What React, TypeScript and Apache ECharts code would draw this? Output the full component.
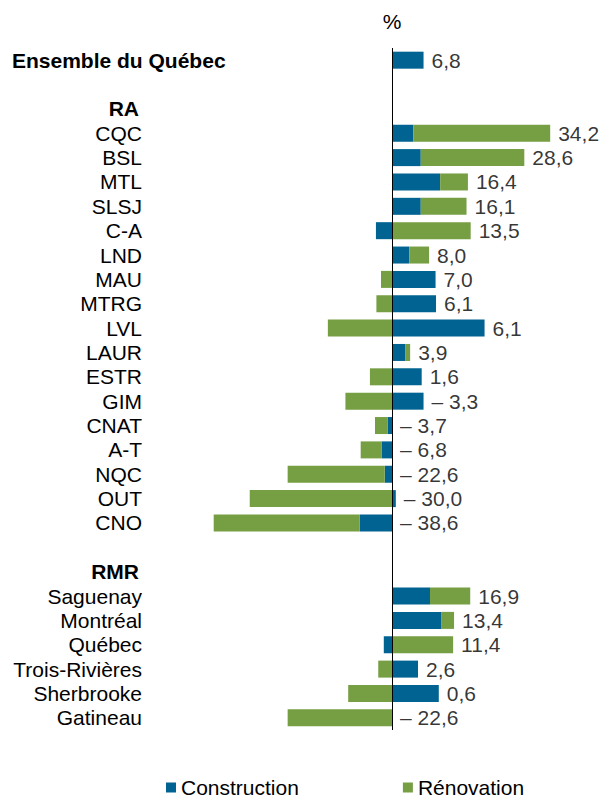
import React, { useEffect, useRef } from "react";
import * as echarts from "echarts";

const categories = [
  "Ensemble du Québec", " ", "RA",
  "CQC", "BSL", "MTL", "SLSJ", "C-A", "LND", "MAU", "MTRG", "LVL",
  "LAUR", "ESTR", "GIM", "CNAT", "A-T", "NQC", "OUT", "CNO",
  "  ", "RMR",
  "Saguenay", "Montréal", "Québec", "Trois-Rivières", "Sherbrooke", "Gatineau",
];
const overallLabel = "Ensemble du Québec";
const headerLabels = ["RA", "RMR"];

const construction: (number | null)[] = [
  6.8, null, null,
  4.6, 6.2, 10.4, 6.2, -3.5, 3.7, 9.4, 9.5, 20.0,
  2.9, 6.4, 6.8, -1.0, -2.3, -1.6, 0.8, -7.0,
  null, null,
  8.2, 10.7, -1.8, 5.6, 10.1, 0.0,
];
const renovation: (number | null)[] = [
  0.0, null, null,
  29.6, 22.4, 6.0, 9.9, 17.0, 4.3, -2.4, -3.4, -13.9,
  1.0, -4.8, -10.1, -2.7, -4.5, -21.0, -30.8, -31.6,
  null, null,
  8.7, 2.7, 13.2, -3.0, -9.5, -22.6,
];
const totals: (number | null)[] = [
  6.8, null, null,
  34.2, 28.6, 16.4, 16.1, 13.5, 8.0, 7.0, 6.1, 6.1,
  3.9, 1.6, -3.3, -3.7, -6.8, -22.6, -30.0, -38.6,
  null, null,
  16.9, 13.4, 11.4, 2.6, 0.6, -22.6,
];

const BLUE = "#006391";
const GREEN = "#769E43";
const FONT = "'Liberation Sans', Arial, Helvetica, sans-serif";
const FS = 21;

function fmt(v: number): string {
  const s = Math.abs(v).toFixed(1).replace(".", ",");
  return v < 0 ? "– " + s : s;
}

export default function App() {
  const ref = useRef<HTMLDivElement>(null);
  useEffect(() => {
    if (!ref.current) return;
    const chart = echarts.init(ref.current, null, { renderer: "svg" });

    const labelPoints: any[] = [];
    categories.forEach((_, i) => {
      const t = totals[i];
      if (t === null) return;
      const c = construction[i] ?? 0;
      const r = renovation[i] ?? 0;
      const ext = Math.max(c, 0) + Math.max(r, 0);
      labelPoints.push({ value: [ext, i], total: t });
    });

    chart.setOption({
      animation: false,
      textStyle: { fontFamily: FONT },
      grid: { left: 161, right: 25, top: 48, bottom: 70 },
      xAxis: {
        type: "value",
        min: -50,
        max: 40,
        show: false,
        splitLine: { show: false },
      },
      yAxis: {
        type: "category",
        data: categories,
        inverse: true,
        axisLine: { show: false },
        axisTick: { show: false },
        splitLine: { show: false },
        axisLabel: {
          interval: 0,
          align: "left",
          margin: 149,
          formatter: (v: string) =>
            v === overallLabel
              ? `{o|${v}}`
              : headerLabels.includes(v)
              ? `{h|${v}}`
              : `{n|${v}}`,
          rich: {
            o: { fontSize: FS, fontWeight: "bold", color: "#000", fontFamily: FONT, align: "left" },
            h: { fontSize: FS, fontWeight: "bold", color: "#000", fontFamily: FONT, width: 127, align: "right" },
            n: { fontSize: FS, color: "#000", fontFamily: FONT, width: 130, align: "right" },
          },
        },
      },
      legend: {
        data: ["Construction", "Rénovation"],
        left: 166,
        top: 777,
        icon: "rect",
        itemWidth: 10,
        itemHeight: 10,
        itemGap: 104,
        padding: 0,
        textStyle: { fontSize: FS, lineHeight: 20, color: "#000", fontFamily: FONT },
      },
      series: [
        {
          name: "Construction",
          type: "bar",
          stack: "total",
          barWidth: 17,
          data: construction,
          itemStyle: { color: BLUE },
          markLine: {
            silent: true,
            symbol: ["none", "none"],
            lineStyle: { color: "#000", width: 1, type: "solid" },
            label: {
              show: true,
              position: "start",
              formatter: "%",
              color: "#000",
              fontSize: FS,
              fontFamily: FONT,
              distance: 16,
            },
            data: [{ xAxis: 0 }],
          },
        },
        {
          name: "Rénovation",
          type: "bar",
          stack: "total",
          barWidth: 17,
          data: renovation,
          itemStyle: { color: GREEN },
        },
        {
          name: "Total",
          type: "scatter",
          symbolSize: 0,
          data: labelPoints,
          label: {
            show: true,
            position: "right",
            distance: 8,
            color: "#000",
            fontSize: FS,
            fontFamily: FONT,
            formatter: (p: any) => fmt(p.data.total),
          },
        },
      ],
    });
    return () => chart.dispose();
  }, []);
  return (
    <div
      ref={ref}
      style={{ position: "absolute", left: 0, top: 0, width: 602, height: 800 }}
    />
  );
}
